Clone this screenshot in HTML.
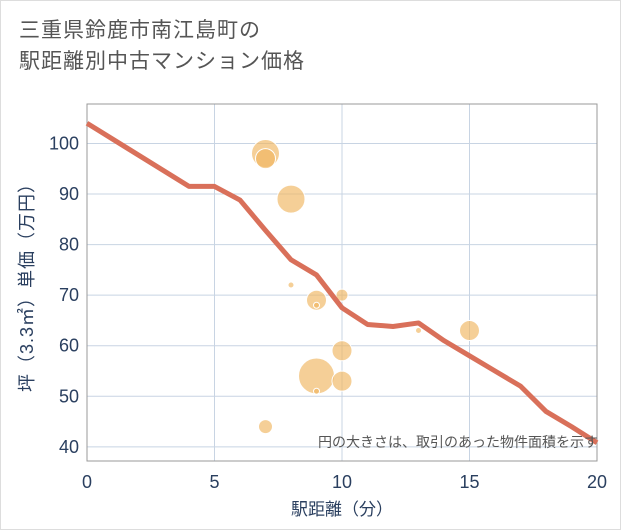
<!DOCTYPE html>
<html><head><meta charset="utf-8">
<style>
body{margin:0;background:#fff;}
#wrap{position:relative;width:619px;height:528px;border:1px solid #ddd;background:#fff;font-family:"Liberation Sans","Noto Sans CJK JP",sans-serif;}
#title{position:absolute;left:18px;top:14px;font-size:21px;line-height:31px;color:#555;letter-spacing:1px;}
svg{position:absolute;left:0;top:0;}
</style></head><body>
<div id="wrap">
<div id="title">三重県鈴鹿市南江島町の<br>駅距離別中古マンション価格</div>
<svg id="chart" width="621" height="530"></svg>
</div>
<script>
const xTicks=[0,5,10,15,20];
const yTicks=[40,50,60,70,80,90,100];
const lineX=[0,4,5,6,7,8,9,10,11,12,13,14,15,16,17,18,19,20];
const lineY=[104,91.5,91.5,88.8,82.8,77,74,67.5,64.2,63.8,64.5,61,58,55,52,47,44,40.8];
const bubX=[7,8,9,9,10,15,10,10,9,7,7,8,13,9];
const bubY=[98,89,69,54,70,63,59,53,51,44,97,72,63,68];
const bubR=[14,14,10,18,6,10,10,10,3,7,10,3,3,3];
const L=86,R=596,T=103,B=460;
const x=v=>L+(v-0)/(20-0)*(R-L);
const y=v=>B-(v-37.2)/(107.8-37.2)*(B-T);
const svg=document.getElementById('chart');
const NS='http://www.w3.org/2000/svg';
function mk(t,a){const e=document.createElementNS(NS,t);for(const k in a)e.setAttribute(k,a[k]);svg.appendChild(e);return e;}
xTicks.forEach(v=>{
 const g=mk('line',{x1:x(v),x2:x(v),y1:T,y2:B,stroke:'#c8d4e3','stroke-width':1});
 
 
 const t=mk('text',{x:x(v),y:487,'text-anchor':'middle','font-size':18,fill:'#2a3f5f'});
 t.textContent=v;
 
 
});
yTicks.forEach(v=>{
 const g=mk('line',{x1:L,x2:R,y1:y(v),y2:y(v),stroke:'#c8d4e3','stroke-width':1});
 
 
 const t=mk('text',{x:78,y:y(v)+6,'text-anchor':'end','font-size':18,fill:'#2a3f5f'});
 t.textContent=v;
 
 
});
const fr=mk('rect',{x:L,y:T,width:R-L,height:B-T,fill:'none',stroke:'#999','stroke-width':1});


bubX.forEach((v,i)=>{
 const c=mk('circle',{cx:x(v),cy:y(bubY[i]),r:bubR[i],fill:'#f0b660','fill-opacity':0.65,stroke:'#fff','stroke-width':1});
 
 
});
const p=mk('polyline',{points:lineX.map((v,i)=>x(v)+','+y(lineY[i])).join(' '),fill:'none',stroke:'#d9705a','stroke-width':5,'stroke-linejoin':'round'});


const n=mk('text',{x:597,y:446,'text-anchor':'end','font-size':14,fill:'#555'});
n.textContent='円の大きさは、取引のあった物件面積を示す';


const xt=mk('text',{x:341,y:514,'text-anchor':'middle','font-size':17,fill:'#2a3f5f'});
xt.textContent='駅距離（分）';


const yt=mk('text',{x:0,y:0,'text-anchor':'middle','font-size':18,'letter-spacing':1,fill:'#2a3f5f',transform:'translate(32,282) rotate(-90)'});
yt.textContent='坪（3.3㎡）単価（万円）';


</script>
</body></html>
